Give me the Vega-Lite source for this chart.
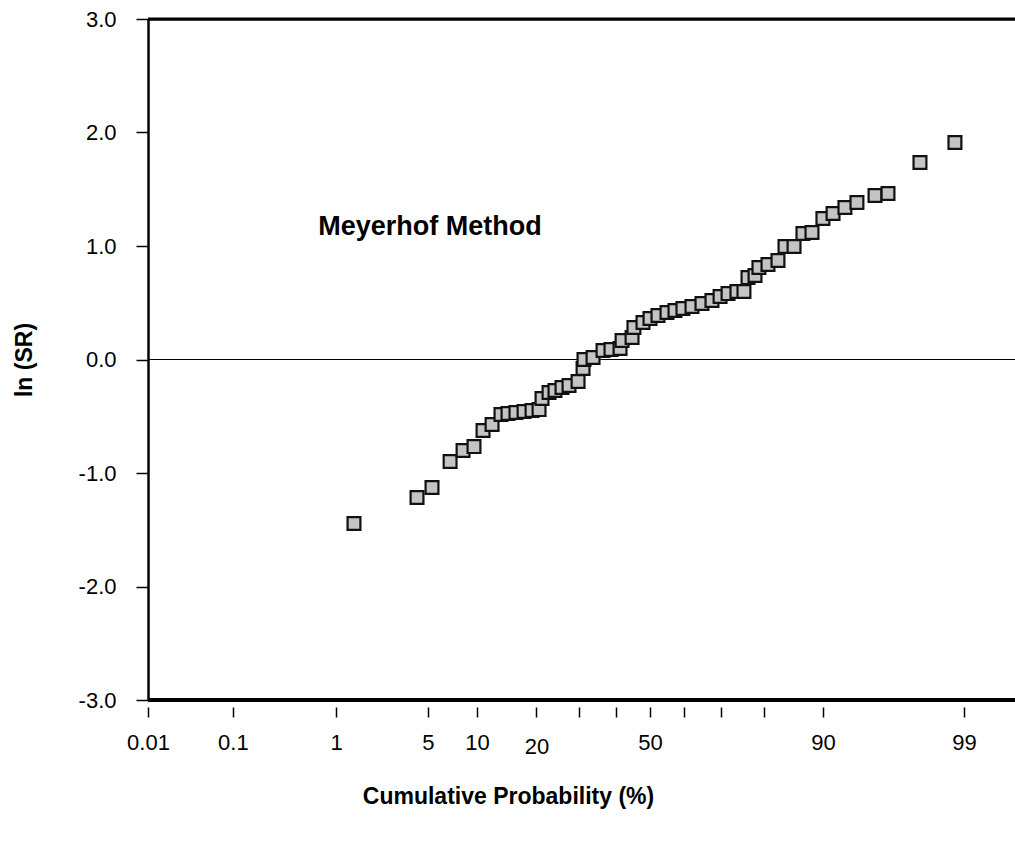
{
  "$schema": "https://vega.github.io/schema/vega-lite/v6.json",
  "width": 867,
  "height": 681,
  "autosize": "none",
  "padding": {"left": 148, "top": 19, "right": 0, "bottom": 146},
  "background": "white",
  "config": {"view": {"stroke": null}, "font": "Liberation Sans"},
  "datasets": {
    "points": [
      {"z": -2.193, "lnSR": -1.445}, {"z": -1.726, "lnSR": -1.216}, {"z": -1.615, "lnSR": -1.128},
      {"z": -1.481, "lnSR": -0.899}, {"z": -1.385, "lnSR": -0.802}, {"z": -1.304, "lnSR": -0.767},
      {"z": -1.237, "lnSR": -0.626}, {"z": -1.170, "lnSR": -0.573}, {"z": -1.104, "lnSR": -0.485},
      {"z": -1.052, "lnSR": -0.476}, {"z": -0.993, "lnSR": -0.467}, {"z": -0.933, "lnSR": -0.458},
      {"z": -0.874, "lnSR": -0.449}, {"z": -0.822, "lnSR": -0.441}, {"z": -0.800, "lnSR": -0.344},
      {"z": -0.748, "lnSR": -0.291}, {"z": -0.704, "lnSR": -0.273}, {"z": -0.652, "lnSR": -0.247},
      {"z": -0.600, "lnSR": -0.229}, {"z": -0.533, "lnSR": -0.194}, {"z": -0.496, "lnSR": -0.079},
      {"z": -0.489, "lnSR": 0.000}, {"z": -0.422, "lnSR": 0.018}, {"z": -0.348, "lnSR": 0.079},
      {"z": -0.289, "lnSR": 0.088}, {"z": -0.222, "lnSR": 0.097}, {"z": -0.207, "lnSR": 0.167},
      {"z": -0.133, "lnSR": 0.194}, {"z": -0.119, "lnSR": 0.282}, {"z": -0.052, "lnSR": 0.326},
      {"z": 0.000, "lnSR": 0.361}, {"z": 0.059, "lnSR": 0.388}, {"z": 0.126, "lnSR": 0.414},
      {"z": 0.185, "lnSR": 0.432}, {"z": 0.244, "lnSR": 0.449}, {"z": 0.311, "lnSR": 0.467},
      {"z": 0.385, "lnSR": 0.493}, {"z": 0.459, "lnSR": 0.520}, {"z": 0.519, "lnSR": 0.555},
      {"z": 0.578, "lnSR": 0.581}, {"z": 0.644, "lnSR": 0.599}, {"z": 0.696, "lnSR": 0.599},
      {"z": 0.726, "lnSR": 0.722}, {"z": 0.778, "lnSR": 0.740}, {"z": 0.807, "lnSR": 0.811},
      {"z": 0.874, "lnSR": 0.837}, {"z": 0.948, "lnSR": 0.872}, {"z": 1.000, "lnSR": 0.996},
      {"z": 1.067, "lnSR": 0.996}, {"z": 1.133, "lnSR": 1.110}, {"z": 1.200, "lnSR": 1.119},
      {"z": 1.281, "lnSR": 1.242}, {"z": 1.356, "lnSR": 1.286}, {"z": 1.444, "lnSR": 1.339},
      {"z": 1.533, "lnSR": 1.383}, {"z": 1.667, "lnSR": 1.445}, {"z": 1.763, "lnSR": 1.463},
      {"z": 2.000, "lnSR": 1.736}, {"z": 2.259, "lnSR": 1.912}
    ],
    "lines": [{"lnSR": 0, "w": 1}, {"lnSR": 3, "w": 2.5}, {"lnSR": -3, "w": 3}],
    "note": [{"z": -1.63, "lnSR": 1.163, "label": "Meyerhof Method"}]
  },
  "layer": [
    {
      "data": {"name": "lines"},
      "mark": {"type": "rule", "color": "black"},
      "encoding": {
        "y": {"field": "lnSR", "type": "quantitative", "scale": {"domain": [-3, 3], "nice": false, "zero": false}},
        "strokeWidth": {"field": "w", "type": "quantitative", "scale": {"type": "identity"}, "legend": null}
      }
    },
    {
      "data": {"name": "points"},
      "mark": {"type": "point", "shape": "square", "size": 165, "filled": true, "fill": "#c4c4c4", "stroke": "#111111", "strokeWidth": 2.2, "opacity": 1},
      "encoding": {
        "x": {
          "field": "z", "type": "quantitative",
          "scale": {"domain": [-3.719, 2.704], "nice": false, "zero": false},
          "axis": {
            "title": "Cumulative Probability (%)",
            "values": [-3.719, -3.09, -2.326, -1.645, -1.2816, -0.8416, -0.5244, -0.2533, 0, 0.2533, 0.5244, 0.8416, 1.2816, 2.326],
            "labelExpr": "abs(datum.value+3.719)<0.01 ? '0.01' : abs(datum.value+3.09)<0.01 ? '0.1' : abs(datum.value+2.326)<0.01 ? '1' : abs(datum.value+1.645)<0.01 ? '5' : abs(datum.value+1.2816)<0.01 ? '10' : abs(datum.value+0.8416)<0.01 ? '20' : abs(datum.value)<0.01 ? '50' : abs(datum.value-1.2816)<0.01 ? '90' : abs(datum.value-2.326)<0.01 ? '99' : ''",
            "domain": false,
            "grid": false,
            "offset": 7,
            "tickSize": 10,
            "tickWidth": 1.5,
            "tickColor": "black",
            "labelFontSize": 22,
            "labelColor": "black",
            "labelPadding": {"expr": "abs(datum.value+0.8416)<0.01 ? 19 : 15"},
            "labelOverlap": false,
            "labelFlush": false,
            "titleFontSize": 23,
            "titleFontWeight": "bold",
            "titleColor": "black",
            "titleX": 360,
            "titlePadding": 28
          }
        },
        "y": {
          "field": "lnSR", "type": "quantitative",
          "axis": {
            "title": "ln (SR)",
            "values": [-3, -2, -1, 0, 1, 2, 3],
            "labelExpr": "datum.value < 0 ? '-' + format(-datum.value, '.1f') : format(datum.value, '.1f')",
            "domain": true,
            "domainWidth": 2.5,
            "domainColor": "black",
            "grid": false,
            "tickSize": 12,
            "tickWidth": 1.5,
            "tickColor": "black",
            "labelFontSize": 22,
            "labelColor": "black",
            "labelPadding": 20,
            "titleFontSize": 23,
            "titleFontWeight": "bold",
            "titleColor": "black",
            "titlePadding": 42
          }
        }
      }
    },
    {
      "data": {"name": "note"},
      "mark": {"type": "text", "fontSize": 27, "fontWeight": "bold", "align": "center", "baseline": "middle", "color": "black"},
      "encoding": {
        "x": {"field": "z", "type": "quantitative"},
        "y": {"field": "lnSR", "type": "quantitative"},
        "text": {"field": "label"}
      }
    }
  ]
}
